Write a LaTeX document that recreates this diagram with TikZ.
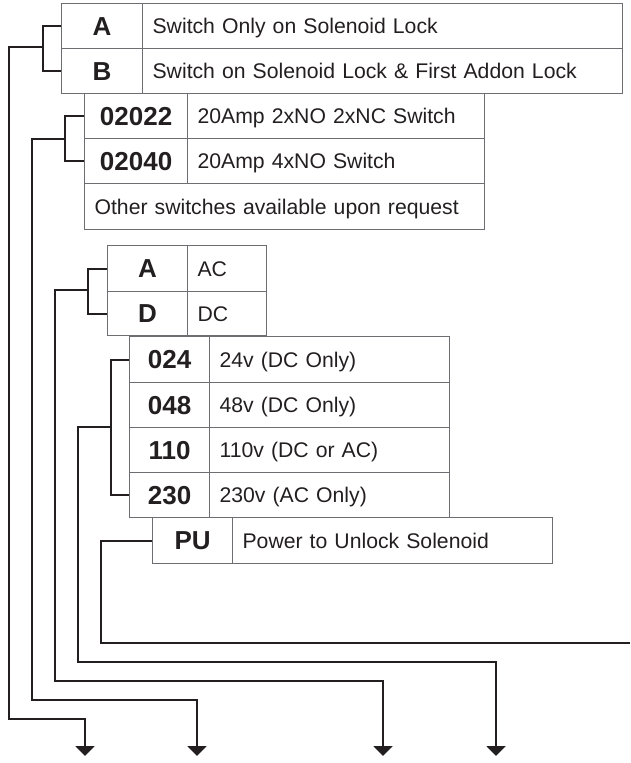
\documentclass[tikz,border=0pt]{standalone}
\usepackage{fontspec}
\setmainfont{Liberation Sans}
\usetikzlibrary{arrows.meta,positioning}
\definecolor{Ink}{HTML}{231F20}
\definecolor{Rule}{HTML}{6D6E71}
\tikzset{
  cell/.style={
    draw=Rule, line width=1.2pt, anchor=north west, minimum height=45pt,
    text=Ink, text depth=0pt
  },
  codecell/.style={
    cell, font=\fontsize{26}{28}\selectfont\bfseries, text height=18.5pt,
    inner xsep=0pt
  },
  desccell/.style={
    cell, font=\fontsize{21.2}{24}\selectfont, text height=15pt,
    inner xsep=10pt, align=left
  },
  feed/.style={draw=Ink, line width=2pt},
  drop/.style={feed, -{Triangle[width=19pt,length=10pt]}}
}

\begin{document}
\begin{tikzpicture}[x=1pt,y=-1pt]
    \useasboundingbox (0,0) rectangle (630,763);

    % lock switch
    \node[codecell,minimum width=81pt] (swa) at (61,3) {A};
    \node[desccell,text width=460pt] (swadesc) at (142,3) {Switch Only on Solenoid Lock};
    \node[codecell,minimum width=81pt] (swb) at (61,48) {B};
    \node[desccell,text width=460pt] (swbdesc) at (142,48)
      {Switch on Solenoid Lock \& First Addon Lock};

    % switch type
    \node[codecell,minimum width=103pt] (sw22) at (84,93) {02022};
    \node[desccell,text width=277pt] (sw22desc) at (187,93) {20Amp 2xNO 2xNC Switch};
    \node[codecell,minimum width=103pt] (sw40) at (84,138) {02040};
    \node[desccell,text width=277pt] (sw40desc) at (187,138) {20Amp 4xNO Switch};
    \node[desccell,text width=380pt,minimum height=46pt] (swother) at (84,183)
      {Other switches available upon request};

    % supply
    \node[codecell,minimum width=80pt,minimum height=46pt] (supa) at (107,245) {A};
    \node[desccell,text width=59pt,minimum height=46pt] (supadesc) at (187,245) {AC};
    \node[codecell,minimum width=80pt,minimum height=44pt] (supd) at (107,291) {D};
    \node[desccell,text width=59pt,minimum height=44pt] (supddesc) at (187,291) {DC};

    % voltage
    \node[codecell,minimum width=80pt,minimum height=46pt] (v024) at (129,336) {024};
    \node[desccell,text width=220pt,minimum height=46pt] (v024desc) at (209,336) {24v (DC Only)};
    \node[codecell,minimum width=80pt] (v048) at (129,382) {048};
    \node[desccell,text width=220pt] (v048desc) at (209,382) {48v (DC Only)};
    \node[codecell,minimum width=80pt] (v110) at (129,427) {110};
    \node[desccell,text width=220pt] (v110desc) at (209,427) {110v (DC or AC)};
    \node[codecell,minimum width=80pt] (v230) at (129,472) {230};
    \node[desccell,text width=220pt] (v230desc) at (209,472) {230v (AC Only)};

    % unlock mode
    \node[codecell,minimum width=80pt,minimum height=46pt] (pu) at (152,517) {PU};
    \node[desccell,text width=300pt,minimum height=46pt] (pudesc) at (232,517)
      {Power to Unlock Solenoid};

    % junctions, bends and arrow tips
    \coordinate (j1) at (43,47);
    \coordinate (j2) at (65,139);
    \coordinate (j3) at (88,290);
    \coordinate (j4) at (111,427);
    \coordinate (bend1) at (9,719);
    \coordinate (bend2) at (32,700);
    \coordinate (bend3) at (55,681);
    \coordinate (bend4) at (78,662);
    \coordinate (bend5) at (101,643);
    \coordinate (tip1) at (85,756);
    \coordinate (tip2) at (197,756);
    \coordinate (tip3) at (383,756);
    \coordinate (tip4) at (496,756);
    \coordinate (exit5) at (630,643);

    \draw[feed] (swa.west) -| (j1) |- (swb.west);
    \draw[feed] (sw22.west) -| (j2) |- (sw40.west);
    \draw[feed] (supa.west) -| (j3) |- (supd.west);
    \draw[feed] (v024.west) -| (j4) |- (v230.west);

    \draw[drop] (j1) -| (bend1) -| (tip1);
    \draw[drop] (j2) -| (bend2) -| (tip2);
    \draw[drop] (j3) -| (bend3) -| (tip3);
    \draw[drop] (j4) -| (bend4) -| (tip4);
    \draw[feed] (pu.west) -| (bend5) -- (exit5);
  \end{tikzpicture}
\end{document}
